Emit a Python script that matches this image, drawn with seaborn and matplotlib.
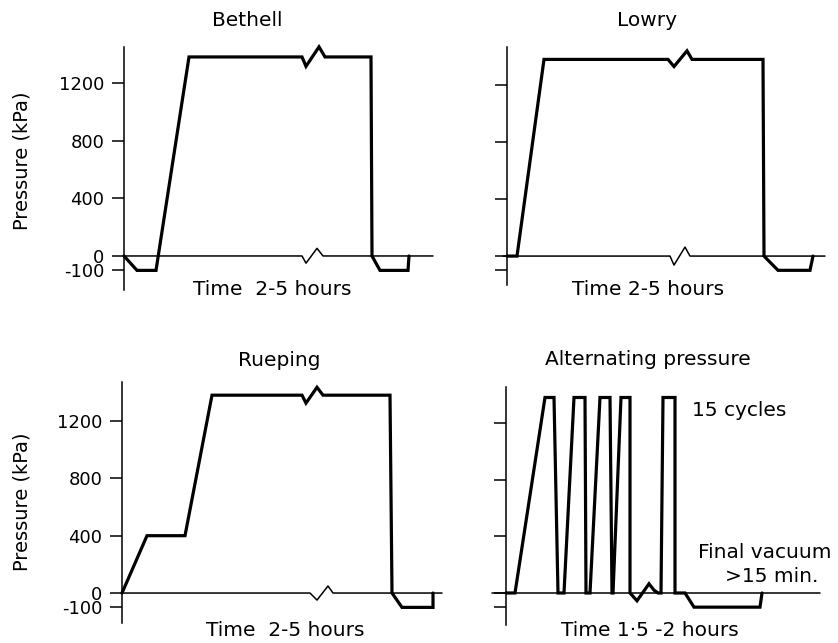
import matplotlib
matplotlib.use("Agg")
import matplotlib.pyplot as plt
import matplotlib.transforms as mtransforms
import pandas as pd
import seaborn as sns

sns.set_style("ticks")
plt.rcParams['font.family'] = ['DejaVu Sans']
plt.rcParams['text.color'] = 'black'
plt.rcParams['axes.labelcolor'] = 'black'
plt.rcParams['ytick.color'] = 'black'

W, H = 838, 643
FS = 14.5
FS_TICK = 13
FS_YLAB = 14

# ---------------- data (time in arbitrary units, pressure in kPa) ----------------
bethell_t = [0, 13, 32, 65, 178, 182, 195, 201, 247, 248, 256, 284, 285]
bethell_p = [0, -100, -100, 1380, 1380, 1315, 1450, 1380, 1380, 0, -100, -100, 0]

lowry_t = [0, 10, 37, 161, 167, 180, 185, 256, 257, 271, 303, 306]
lowry_p = [0, 0, 1380, 1380, 1330, 1440, 1380, 1380, 0, -100, -100, 0]

rueping_t = [0, 25, 63, 90, 180, 184, 195, 201, 268, 270, 280, 311, 311]
rueping_p = [0, 400, 400, 1380, 1380, 1325, 1435, 1380, 1380, 0, -100, -100, 0]

alt_t = [0, 9, 39, 48, 52, 58, 68, 79, 80, 84, 94, 104, 106, 107, 115, 124, 124,
         131, 143, 148, 152, 155, 157, 169, 169, 179, 188, 254, 256]
alt_p = [0, 0, 1380, 1380, 0, 0, 1380, 1380, 0, 0, 1380, 1380, 0, 0, 1380, 1380, 0,
         -55, 65, 20, 0, 0, 1380, 1380, 0, 0, -100, -100, 0]

# time axis lines with break marks
bethell_axis_t = [0, 178, 182, 193, 199, 309]
bethell_axis_p = [0, 0, -50, 53, 0, 0]
lowry_axis_t = [-4, 163, 167, 178, 183, 318]
lowry_axis_p = [0, 0, -63, 63, 0, 0]
rueping_axis_t = [0, 188, 195, 206, 211, 320]
rueping_axis_p = [0, 0, -49, 49, 0, 0]
alt_axis_t = [-14, 314]
alt_axis_p = [0, 0]

titles = ["Bethell", "Lowry", "Rueping", "Alternating pressure"]
time_labels = ["Time  2-5 hours", "Time 2-5 hours", "Time  2-5 hours", "Time 1·5 -2 hours"]
yticks = [-100, 0, 400, 800, 1200]
ytick_labels = ["-100", "0", "400", "800", "1200"]
ylabel = "Pressure (kPa)"

# ---------------- layout (pixels) ----------------
panels = [
    dict(sx=124, top=47, bot=290, right=433, ylim=(-236, 1449),
         t=bethell_t, p=bethell_p, at=bethell_axis_t, ap=bethell_axis_p,
         title_xy=(247, 21), time_xy=(272, 290), labels=True),
    dict(sx=507, top=47, bot=285, right=825, ylim=(-203, 1467),
         t=lowry_t, p=lowry_p, at=lowry_axis_t, ap=lowry_axis_p,
         title_xy=(647, 21), time_xy=(648, 290), labels=False),
    dict(sx=122, top=382, bot=623, right=442, ylim=(-209, 1472),
         t=rueping_t, p=rueping_p, at=rueping_axis_t, ap=rueping_axis_p,
         title_xy=(279, 361), time_xy=(285, 630), labels=True),
    dict(sx=506, top=387, bot=625, right=820, ylim=(-226, 1454),
         t=alt_t, p=alt_p, at=alt_axis_t, ap=alt_axis_p,
         title_xy=(648, 359), time_xy=(650, 630), labels=False),
]

fig = plt.figure(figsize=(W / 100, H / 100), dpi=100)
fig.patch.set_facecolor("white")


def fx(x):
    return x / W


def fy(y):
    return 1 - y / H


for i, pn in enumerate(panels):
    ax = fig.add_axes([fx(pn["sx"]), fy(pn["bot"]), (pn["right"] - pn["sx"]) / W,
                       (pn["bot"] - pn["top"]) / H])
    ax.set_facecolor("none")
    df = pd.DataFrame({"t": pn["t"], "p": pn["p"]})
    dfa = pd.DataFrame({"t": pn["at"], "p": pn["ap"]})
    sns.lineplot(data=dfa, x="t", y="p", sort=False, estimator=None, ax=ax,
                 color="black", linewidth=1.1, clip_on=False)
    sns.lineplot(data=df, x="t", y="p", sort=False, estimator=None, ax=ax,
                 color="black", linewidth=2.3, clip_on=False,
                 solid_joinstyle="miter")
    ax.set_xlim(0, pn["right"] - pn["sx"])
    ax.set_ylim(*pn["ylim"])
    ax.set_xlabel("")
    ax.set_ylabel("")
    ax.set_xticks([])
    ax.set_yticks(yticks)
    if pn["labels"]:
        ax.set_yticklabels(ytick_labels, fontsize=FS_TICK, color="black")
        labs = ax.get_yticklabels()
        # nudge the two closely spaced labels apart slightly
        labs[0].set_transform(labs[0].get_transform() +
                              mtransforms.ScaledTranslation(0, -4 / 100, fig.dpi_scale_trans))
        labs[1].set_transform(labs[1].get_transform() +
                              mtransforms.ScaledTranslation(0, 4 / 100, fig.dpi_scale_trans))
    else:
        ax.set_yticklabels([])
    ax.tick_params(axis="y", direction="out", length=8.5, width=1.1, pad=5.5,
                   color="black", labelcolor="black")
    for s in ["top", "right", "bottom"]:
        ax.spines[s].set_visible(False)
    ax.spines["left"].set_linewidth(1.1)
    ax.spines["left"].set_color("black")

    fig.text(fx(pn["title_xy"][0]), fy(pn["title_xy"][1]), titles[i],
             ha="center", va="center", fontsize=FS)
    fig.text(fx(pn["time_xy"][0]), fy(pn["time_xy"][1]), time_labels[i],
             ha="center", va="center", fontsize=FS)

for yy in (161, 502):
    fig.text(fx(22), fy(yy), ylabel, rotation=90, ha="center", va="center",
             fontsize=FS_YLAB)

fig.text(fx(692), fy(410), "15 cycles", ha="left", va="center", fontsize=FS)
fig.text(fx(698), fy(553), "Final vacuum", ha="left", va="center", fontsize=FS)
fig.text(fx(725), fy(577), ">15 min.", ha="left", va="center", fontsize=FS)

fig.savefig("out.png", dpi=100, facecolor="white")
